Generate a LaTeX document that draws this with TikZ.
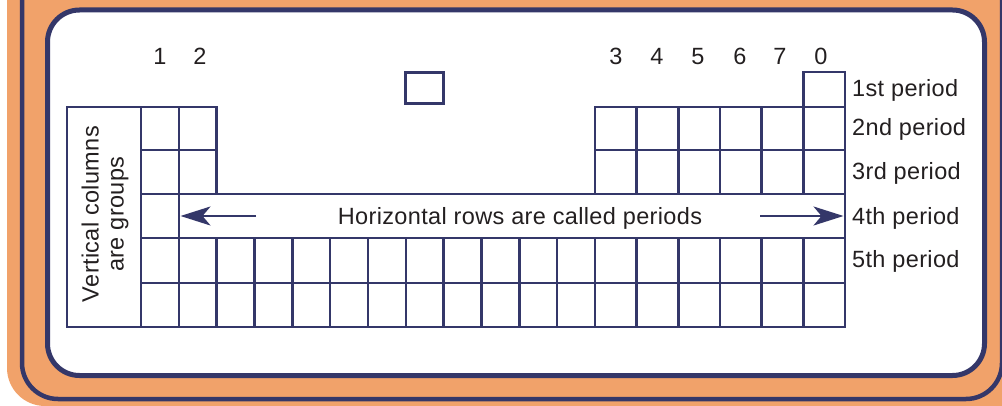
\documentclass[tikz,border=0pt]{standalone}
\usepackage{fontspec}
\setmainfont{Liberation Sans}[LetterSpace=1.5]
\usetikzlibrary{arrows.meta}
\definecolor{navy}{RGB}{52,55,105}
\definecolor{peach}{RGB}{241,162,106}
\definecolor{ink}{RGB}{35,31,32}
\begin{document}
\begin{tikzpicture}[x=1pt,y=-1pt,
  cell/.style={draw=navy,line width=2.4pt},
  hbox/.style={draw=navy,line width=3pt},
  lbl/.style={font=\fontsize{23.5}{25}\selectfont,text=ink,inner sep=0pt},
  arr/.style={draw=navy,line width=2.4pt,-{Stealth[length=30pt,width=19pt,inset=8pt]}}
]
\useasboundingbox (0,0) rectangle (1002,406);
% frame
\begin{scope}
  \clip (0,0) rectangle (1002,406);
  \fill[peach,rounded corners=38pt] (7,-80) rectangle (1080,406);
  \draw[navy,line width=4.5pt,rounded corners=36pt] (22,-80) rectangle (1002,399);
  \draw[navy,line width=5pt,fill=white,rounded corners=32pt] (47.5,10) rectangle (984.5,375.5);
\end{scope}
% label box
\draw[cell] (67,107) rectangle (141,327);
% groups 1 and 2
\foreach \i in {0,1}{
  \pgfmathsetmacro\xa{141+37.83*\i}
  \pgfmathsetmacro\xb{141+37.83*(\i+1)}
  \draw[cell] (\xa,107) rectangle (\xb,150) (\xa,150) rectangle (\xb,194);
}
% row 4
\draw[cell] (141,194) rectangle (179,238);
\draw[cell] (179,194) rectangle (845,238);
% rows 5 and 6, left part
\foreach \i in {0,...,11}{
  \pgfmathsetmacro\xa{141+37.83*\i}
  \pgfmathsetmacro\xb{141+37.83*(\i+1)}
  \draw[cell] (\xa,238) rectangle (\xb,283) (\xa,283) rectangle (\xb,327);
}
% right block
\foreach \j in {0,...,5}{
  \pgfmathsetmacro\xa{595+41.67*\j}
  \pgfmathsetmacro\xb{595+41.67*(\j+1)}
  \draw[cell] (\xa,107) rectangle (\xb,150) (\xa,150) rectangle (\xb,194)
              (\xa,238) rectangle (\xb,283) (\xa,283) rectangle (\xb,327);
}
% 1st period boxes
\draw[cell] (803.3,72) rectangle (845,107);
\draw[hbox] (405.5,73) rectangle (443,104);
% group numbers
\node[lbl,anchor=base] (g1) at (160,65) {1};
\node[lbl,anchor=base] (g2) at (200,65) {2};
\node[lbl,anchor=base] (g3) at (616,65) {3};
\node[lbl,anchor=base] (g4) at (657,65) {4};
\node[lbl,anchor=base] (g5) at (698,65) {5};
\node[lbl,anchor=base] (g6) at (740,65) {6};
\node[lbl,anchor=base] (g7) at (780,65) {7};
\node[lbl,anchor=base] (g0) at (821,65) {0};
% period labels
\node[lbl,anchor=base west] (p1) at (852,97) {1st period};
\node[lbl,anchor=base west] (p2) at (852,136) {2nd period};
\node[lbl,anchor=base west] (p3) at (852,180) {3rd period};
\node[lbl,anchor=base west] (p4) at (852,225) {4th period};
\node[lbl,anchor=base west] (p5) at (852,268) {5th period};
% central text and arrows
\node[lbl,anchor=base] (hr) at (520,225) {Horizontal rows are called periods};
\coordinate (la) at (256,216);
\coordinate (lt) at (180.5,216);
\coordinate (ra) at (760,216);
\coordinate (rt) at (843.5,216);
\draw[arr] (la) -- (lt);
\draw[arr] (ra) -- (rt);
% vertical label
\node[lbl,rotate=90,align=center] (vc) at (105,214) {Vertical columns\\are groups};
\end{tikzpicture}
\end{document}
